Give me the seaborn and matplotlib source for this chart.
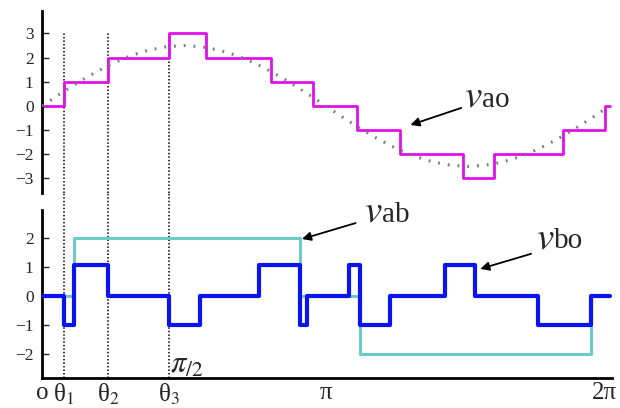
import numpy as np
import pandas as pd
import seaborn as sns
import matplotlib.pyplot as plt

PI = np.pi

# ---- data (x positions in units of pi) ----
vao_edges = [0, 0.0772, 0.234, 0.448, 0.578, 0.806, 0.955, 1.110, 1.260, 1.484, 1.593, 1.835, 1.983, 2.0]
vao_levels = [0, 1, 2, 3, 2, 1, 0, -1, -2, -3, -2, -1, 0, 0]

sine_x = [i / 16 for i in range(33)]
sine_y = [0, 0.49, 0.96, 1.39, 1.77, 2.08, 2.31, 2.45, 2.5, 2.45, 2.31, 2.08, 1.77, 1.39, 0.96, 0.49,
          0, -0.49, -0.96, -1.39, -1.77, -2.08, -2.31, -2.45, -2.5, -2.45, -2.31, -2.08, -1.77, -1.39,
          -0.96, -0.49, 0]

vab_edges = [0, 0.112, 0.909, 1.119, 1.934, 2.0]
vab_levels = [0, 2, 0, -2, 0, 0]

vbo_edges = [0, 0.0772, 0.112, 0.234, 0.448, 0.558, 0.765, 0.909, 0.934, 1.081, 1.119, 1.227,
             1.420, 1.525, 1.747, 1.934, 2.0]
vbo_levels = [0, -1, 1.1, 0, -1, 0, 1.1, -1, 0, 1.1, -1, 0, 1.1, 0, -1, 0, 0]

theta_lines = [0.0772, 0.234, 0.448]
top_ticks = [-3, -2, -1, 0, 1, 2, 3]
bot_ticks = [-2, -1, 0, 1, 2]
xtick_pos = [0, 0.0772, 0.234, 0.448, 1.0, 1.982]
xtick_labels = ['o', r'θ$_1$', r'θ$_2$', r'θ$_3$', 'π', '2π']

# ---- style ----
sns.set_style('white')
plt.rcParams['font.family'] = ['Liberation Serif', 'DejaVu Serif']
plt.rcParams['mathtext.fontset'] = 'stix'

MAG = '#e010ea'
BLUE = '#0a14f0'
CYAN = '#6ccaca'

fig = plt.figure(figsize=(6.2, 4.08), dpi=100)
ax1 = fig.add_axes([42 / 620, 1 - 193 / 408, 570 / 620, 182 / 408])
ax2 = fig.add_axes([42 / 620, 1 - 378 / 408, 570 / 620, 168 / 408])

x_ao = np.array(vao_edges) * PI
x_ab = np.array(vab_edges) * PI
x_bo = np.array(vbo_edges) * PI
x_sin = np.array(sine_x) * PI

# top plot
sns.lineplot(x=x_ao, y=vao_levels, ax=ax1, color=MAG, lw=2.0, drawstyle='steps-post', zorder=2)
sns.lineplot(x=x_sin, y=sine_y, ax=ax1, color='#7a7a7a', lw=2.2, linestyle=(0, (0.6, 2.6)), zorder=3)
ax1.vlines(np.array(theta_lines) * PI, -3.6, 3, colors='black', linestyles=(0, (1, 1.3)), lw=1.1, zorder=1)

# bottom plot
sns.lineplot(x=x_ab, y=vab_levels, ax=ax2, color=CYAN, lw=2.2, drawstyle='steps-post', zorder=2)
sns.lineplot(x=x_bo, y=vbo_levels, ax=ax2, color=BLUE, lw=3.0, drawstyle='steps-post', zorder=3)
ax2.vlines(np.array(theta_lines) * PI, -2.81, 2.98 + 17 / 29, colors='black',
           linestyles=(0, (1, 1.3)), lw=1.1, zorder=1, clip_on=False)

for ax in (ax1, ax2):
    ax.set_xlim(0, 2 * PI * 1.004)
    for s in ('top', 'right'):
        ax.spines[s].set_visible(False)
    ax.spines['left'].set_linewidth(2.0)
    ax.spines['left'].set_color('black')
    ax.tick_params(axis='y', direction='in', length=5, width=1, labelsize=12.5, pad=6, left=True)
    ax.set_xlabel('')
    ax.set_ylabel('')

ax1.set_ylim(-3.6, 3.93)
ax1.set_yticks(top_ticks)
ax1.spines['bottom'].set_visible(False)
ax1.set_xticks([])

ax2.set_ylim(-2.81, 2.98)
ax2.set_yticks(bot_ticks)
ax2.spines['bottom'].set_linewidth(2.0)
ax2.spines['bottom'].set_color('black')
ax2.set_xticks(np.array(xtick_pos) * PI)
ax2.set_xticklabels(xtick_labels)
ax2.tick_params(axis='x', length=0, labelsize=18, pad=3)

ax2.text(0.452 * PI, -2.62, r'$\pi_{/2}$', fontsize=22, ha='left', va='baseline')

arrow = dict(arrowstyle='-|>', color='black', lw=1.3, mutation_scale=13, shrinkA=0, shrinkB=0)


def label(ax, x, y, sub):
    ax.text(x, y, r'$v$', fontsize=28, ha='left', va='baseline', clip_on=False)
    ax.annotate(sub, xy=(x, y), xytext=(13, 0), textcoords='offset points',
                fontsize=21, ha='left', va='baseline', annotation_clip=False)


ax1.annotate('', xy=(1.298 * PI, -0.785), xytext=(1.477 * PI, -0.08), arrowprops=arrow)
label(ax1, 1.488 * PI, -0.03, 'ao')

ax2.annotate('', xy=(0.916 * PI, 1.98), xytext=(1.105 * PI, 2.53), arrowprops=arrow, annotation_clip=False)
label(ax2, 1.133 * PI, 2.58, 'ab')

ax2.annotate('', xy=(1.544 * PI, 0.95), xytext=(1.723 * PI, 1.47), arrowprops=arrow)
label(ax2, 1.740 * PI, 1.66, 'bo')

fig.savefig('out.png', dpi=100)
